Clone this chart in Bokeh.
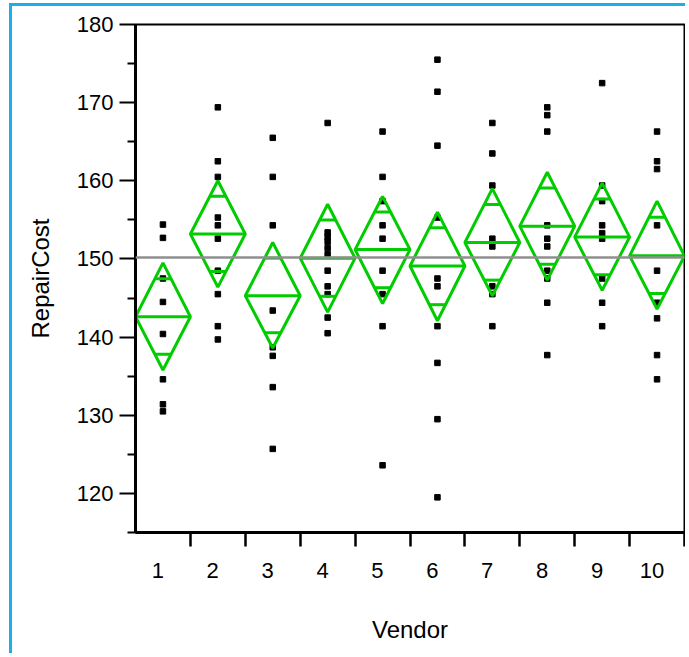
from bokeh.plotting import figure
from bokeh.models import Range1d, FixedTicker, Span
from bokeh.embed import file_html
from bokeh.resources import INLINE

# ---- data ----
vendors = [str(i) for i in range(1, 11)]
cost_v1 = [154.4, 152.7, 147.5, 144.5, 140.4, 134.6, 131.4, 130.5]
cost_v2 = [169.4, 162.5, 160.5, 155.3, 154.3, 152.6, 148.5, 145.5, 141.4, 139.7]
cost_v3 = [165.5, 160.5, 154.3, 143.4, 138.7, 137.6, 133.6, 125.7]
cost_v4 = [167.4, 153.4, 152.8, 152.2, 151.4, 150.6, 148.5, 146.5, 145.5, 142.5, 140.5]
cost_v5 = [166.3, 160.5, 157.4, 154.3, 152.6, 148.5, 145.5, 141.4, 123.6]
cost_v6 = [175.5, 171.4, 164.5, 155.3, 147.5, 146.5, 141.4, 136.7, 129.5, 119.5]
cost_v7 = [167.4, 163.5, 159.4, 152.6, 151.6, 146.5, 145.5, 141.4]
cost_v8 = [169.4, 168.4, 166.3, 154.3, 152.6, 151.6, 148.5, 147.5, 144.4, 137.7]
cost_v9 = [172.5, 159.4, 157.4, 154.3, 153.3, 152.6, 147.5, 144.4, 141.4]
cost_v10 = [166.3, 162.5, 161.5, 154.3, 148.5, 144.4, 142.4, 137.7, 134.6]

group_means = [142.6, 153.2, 145.3, 150.1, 151.2, 149.1, 152.1, 154.2, 152.8, 150.4]
upper95 = [149.5, 160.0, 152.1, 157.0, 158.0, 156.0, 159.0, 161.1, 159.7, 157.4]
lower95 = [135.8, 146.4, 138.6, 143.2, 144.3, 142.1, 145.3, 147.3, 146.0, 143.6]
grand_mean = 150.2

y_major = [120, 130, 140, 150, 160, 170, 180]
y_minor = [115, 125, 135, 145, 155, 165, 175]

all_costs = [cost_v1, cost_v2, cost_v3, cost_v4, cost_v5,
             cost_v6, cost_v7, cost_v8, cost_v9, cost_v10]

GREEN = "#00CC00"
FONT = "Liberation Sans"

p = figure(width=676, height=650, output_backend="svg", toolbar_location=None,
           x_range=Range1d(0.5, 10.5), y_range=Range1d(115, 180),
           min_border_left=123, min_border_top=18, min_border_right=4,
           min_border_bottom=124)
p.styles = {"border-left": "3px solid #1AAFE8", "border-top": "3px solid #1AAFE8",
            "margin-top": "3px", "margin-left": "9px"}

p.xgrid.visible = False
p.ygrid.visible = False
p.outline_line_color = "black"
p.outline_line_width = 2
p.background_fill_color = "white"
p.border_fill_color = "white"

# grand mean line
p.add_layout(Span(location=grand_mean, dimension="width",
                  line_color="#8F8F8F", line_width=2.5))

# points
xs_pts, ys_pts = [], []
for i, vals in enumerate(all_costs):
    xs_pts += [i + 1] * len(vals)
    ys_pts += vals
p.scatter(xs_pts, ys_pts, marker="square", size=5.5, color="black")

# means diamonds
half_w = 0.5
dxs, dys = [], []
mx0, mx1, my = [], [], []
ox0, ox1, oy = [], [], []
for i in range(10):
    c = i + 1
    m, u, l = group_means[i], upper95[i], lower95[i]
    dxs.append([c - half_w, c, c + half_w, c, c - half_w])
    dys.append([m, u, m, l, m])
    mx0.append(c - half_w); mx1.append(c + half_w); my.append(m)
    for lev in (m + (u - m) / 2 ** 0.5, m - (m - l) / 2 ** 0.5):
        frac = abs(lev - m) / (u - m if lev > m else m - l)
        w = half_w * (1 - frac)
        ox0.append(c - w); ox1.append(c + w); oy.append(lev)

p.patches(dxs, dys, fill_color=None, line_color=GREEN, line_width=3)
p.segment(mx0, my, mx1, my, line_color=GREEN, line_width=3)
p.segment(ox0, oy, ox1, oy, line_color=GREEN, line_width=3)

# y axis
ya = p.yaxis[0]
ya.ticker = FixedTicker(ticks=y_major, minor_ticks=y_minor)
ya.axis_label = "RepairCost"
ya.axis_line_width = 3
ya.major_tick_out = 16
ya.major_tick_in = 0
ya.minor_tick_out = 8
ya.minor_tick_in = 0
ya.major_tick_line_width = 2
ya.minor_tick_line_width = 2
ya.major_label_text_font = FONT
ya.major_label_text_font_size = "22px"
ya.major_label_text_color = "black"
ya.major_label_standoff = 6
ya.axis_label_text_font = FONT
ya.axis_label_text_font_size = "24px"
ya.axis_label_text_font_style = "normal"
ya.axis_label_text_color = "black"
ya.axis_label_standoff = 20

# x axis: labels sit slightly left of each group's centre, as in the reference
label_shift = 0.09375
label_pos = [i + 1 - label_shift for i in range(10)]
xa = p.xaxis[0]
xa.ticker = FixedTicker(ticks=label_pos,
                        minor_ticks=[i + 0.5 for i in range(1, 11)])
xa.major_label_overrides = {pos: v for pos, v in zip(label_pos, vendors)}
xa.axis_label = "Vendor"
xa.axis_line_width = 3
xa.major_tick_out = 0
xa.major_tick_in = 0
xa.minor_tick_out = 14
xa.minor_tick_in = 0
xa.minor_tick_line_width = 2.5
xa.major_label_text_font = FONT
xa.major_label_text_font_size = "22px"
xa.major_label_text_color = "black"
xa.major_label_standoff = 16
xa.axis_label_text_font = FONT
xa.axis_label_text_font_size = "24px"
xa.axis_label_text_font_style = "normal"
xa.axis_label_text_color = "black"
xa.axis_label_standoff = 35

open("out.html", "w").write(file_html(p, INLINE))
